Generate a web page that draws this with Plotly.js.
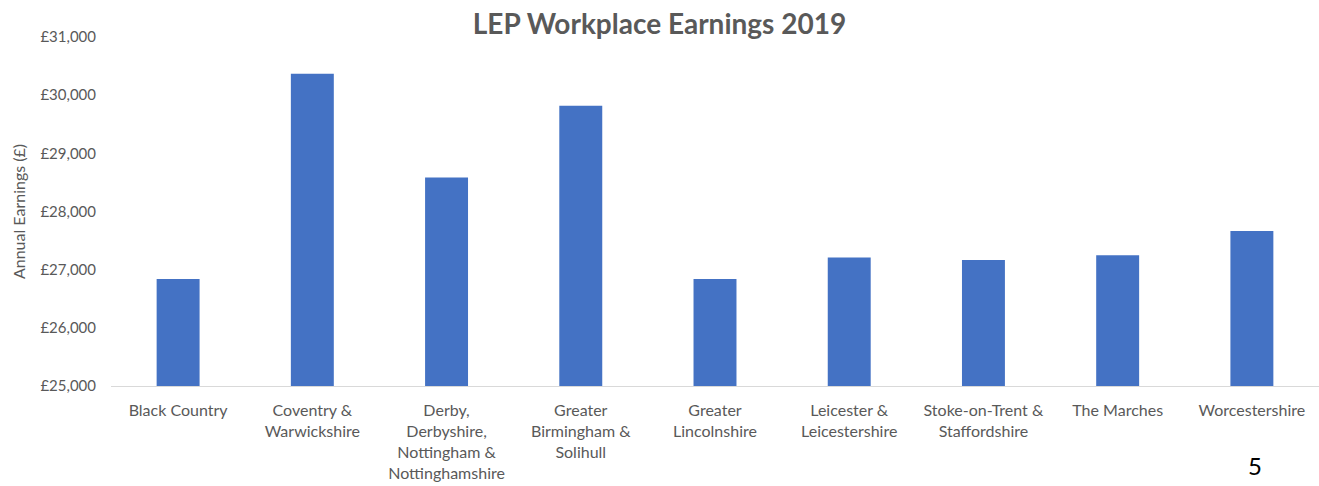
<!DOCTYPE html>
<html>
<head>
<meta charset="utf-8">
<script src="https://cdn.plot.ly/plotly-3.0.1.min.js"></script>
<style>
  body { margin: 0; background: #fff; }
  #plotArea { width: 1319px; height: 486px; }
</style>
</head>
<body>
<div id="plotArea"></div>
<script>
// LEP workplace earnings
var regions = [
  "Black Country",
  "Coventry &<br>Warwickshire",
  "Derby,<br>Derbyshire,<br>Nottingham &<br>Nottinghamshire",
  "Greater<br>Birmingham &<br>Solihull",
  "Greater<br>Lincolnshire",
  "Leicester &<br>Leicestershire",
  "Stoke-on-Trent &<br>Staffordshire",
  "The Marches",
  "Worcestershire"
];
var earnings = [26840, 30370, 28585, 29820, 26840, 27210, 27165, 27250, 27665];
var yTicks = [25000, 26000, 27000, 28000, 29000, 30000, 31000];
var yTickText = yTicks.map(v => "£" + v.toLocaleString("en-GB"));

var font = "Lato, 'Open Sans', sans-serif";

var trace = {
  x: regions,
  y: earnings,
  type: "bar",
  marker: {color: "#4472C4"},
  hoverinfo: "x+y"
};

var layout = {
  width: 1319,
  height: 486,
  margin: {l: 111, r: 0, t: 37, b: 100},
  paper_bgcolor: "#ffffff",
  plot_bgcolor: "#ffffff",
  bargap: 0.68,
  showlegend: false,
  font: {family: font, color: "#595959"},
  title: {
    text: "<b>LEP Workplace Earnings 2019</b>",
    font: {family: font, size: 28, color: "#595959"},
    x: 0.5, xanchor: "center", xref: "container",
    y: 0.95, yanchor: "middle"
  },
  xaxis: {
    type: "category",
    showline: true,
    linecolor: "#D9D9D9",
    linewidth: 1,
    ticks: "",
    showgrid: false,
    ticklabelstandoff: 10,
    tickfont: {family: font, size: 16, color: "#595959"},
    tickangle: 0,
    automargin: false
  },
  yaxis: {
    range: [25000, 31000],
    tickvals: yTicks,
    ticktext: yTickText,
    showgrid: false,
    zeroline: false,
    showline: false,
    ticks: "",
    ticklabelstandoff: 14,
    tickfont: {family: font, size: 15, color: "#595959"},
    title: {text: "Annual Earnings (£)", font: {family: font, size: 16, color: "#595959"}, standoff: 10},
    automargin: false
  },
  annotations: [{
    text: "5",
    xref: "paper", yref: "paper",
    x: (1255 - 111) / 1208, y: -(465 - 386) / 349,
    xanchor: "center", yanchor: "middle",
    showarrow: false,
    font: {family: font, size: 24, color: "#000000"}
  }]
};

Plotly.newPlot("plotArea", [trace], layout, {displayModeBar: false, staticPlot: true});
</script>
</body>
</html>
